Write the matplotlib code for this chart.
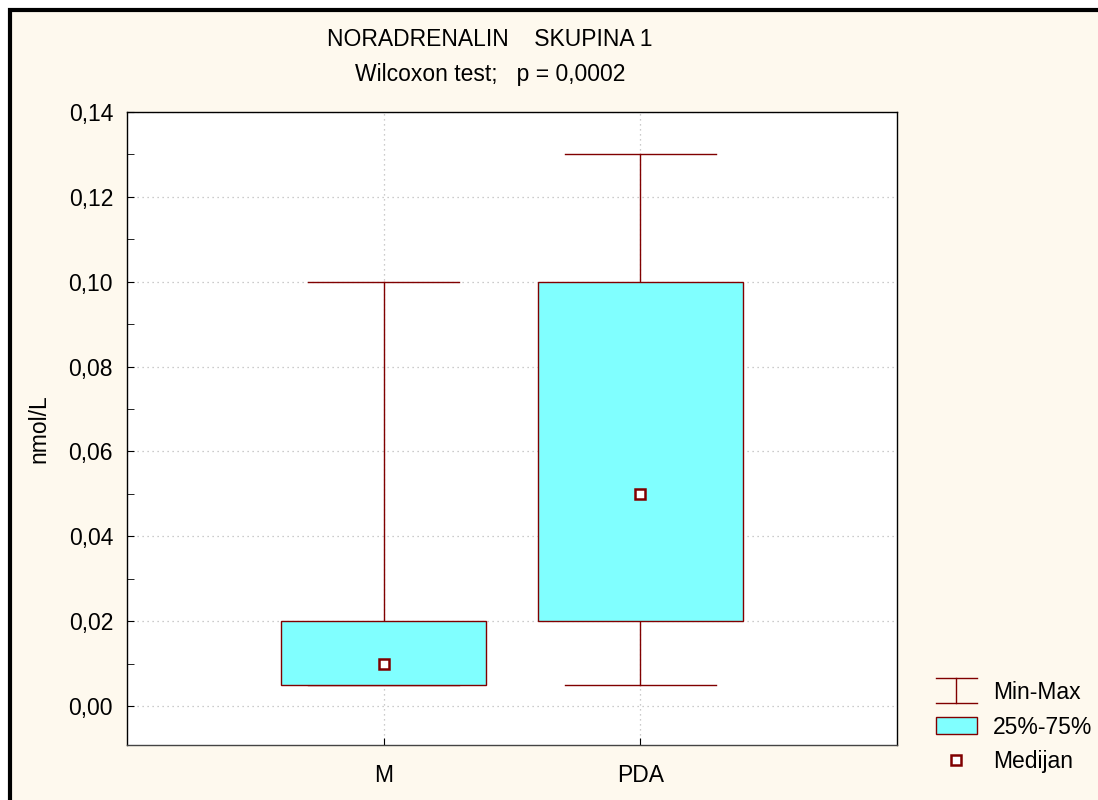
import matplotlib
matplotlib.use("Agg")
import matplotlib.pyplot as plt
from matplotlib.patches import Rectangle
from matplotlib.lines import Line2D
from matplotlib.legend_handler import HandlerBase

plt.rcParams['font.family'] = ['Liberation Sans', 'DejaVu Sans']

# data
groups = ["M", "PDA"]
v_min = [0.005, 0.005]
q25 = [0.005, 0.02]
median = [0.01, 0.05]
q75 = [0.02, 0.10]
v_max = [0.10, 0.13]

ytick_labels = ["0,00", "0,02", "0,04", "0,06", "0,08", "0,10", "0,12", "0,14"]
yticks = [0.0, 0.02, 0.04, 0.06, 0.08, 0.10, 0.12, 0.14]

red = "#800000"
cyan = "#80FFFF"
cream = "#FEF9EE"
fs = 16.5

fig = plt.figure(figsize=(10.98, 8), dpi=100, facecolor="white")
# cream panel with black frame on left/top
fig.patches.append(Rectangle((10/1098, -0.05), 1.2, 1 - 10/800 + 0.05,
                             transform=fig.transFigure, facecolor=cream,
                             edgecolor="black", linewidth=3, zorder=-10))

ax = fig.add_axes([127/1098, 1 - 745/800, (897-127)/1098, (745-112)/800])
ax.set_facecolor("white")

pos = [1, 2]
bw = 0.8
cw = 0.59
for x, lo, a, m, b, hi in zip(pos, v_min, q25, median, q75, v_max):
    ax.plot([x, x], [lo, a], color=red, lw=1, zorder=2)
    ax.plot([x, x], [b, hi], color=red, lw=1, zorder=2)
    ax.plot([x - cw/2, x + cw/2], [lo, lo], color=red, lw=1, zorder=2)
    ax.plot([x - cw/2, x + cw/2], [hi, hi], color=red, lw=1, zorder=2)
    ax.add_patch(Rectangle((x - bw/2, a), bw, b - a, facecolor=cyan,
                           edgecolor=red, lw=1, zorder=3))
    ax.plot([x], [m], marker="s", ms=7.5, mfc="white", mec=red, mew=1.8,
            ls="none", zorder=4)

ax.set_xlim(0, 3)
ax.set_ylim(-0.0092, 0.14)
ax.set_xticks(pos)
ax.set_xticklabels(groups, fontsize=fs)
ax.set_yticks(yticks)
ax.set_yticklabels(ytick_labels, fontsize=fs)
ax.set_yticks([0.01, 0.03, 0.05, 0.07, 0.09, 0.11, 0.13], minor=True)
ax.tick_params(axis="both", direction="in", length=5, pad=10, colors="black")
ax.tick_params(axis="y", which="minor", direction="in", length=5)
ax.tick_params(axis="x", pad=14)
ax.grid(True, color="#BBBBBB", linestyle=(0, (1, 3)), lw=0.9, zorder=0)
ax.set_axisbelow(True)
for s in ax.spines.values():
    s.set_linewidth(1)
ax.spines["bottom"].set_color("#444444")
ax.set_ylabel("nmol/L", fontsize=fs, labelpad=13)

fig.text(490/1098, 1 - 40/800, "NORADRENALIN    SKUPINA 1", ha="center",
         va="center", fontsize=fs)
fig.text(490/1098, 1 - 75/800, "Wilcoxon test;   p = 0,0002", ha="center",
         va="center", fontsize=fs)


class MinMaxHandler(HandlerBase):
    def create_artists(self, legend, orig, xd, yd, w, h, fs, trans):
        x0, x1 = xd, xd + w
        top, bot = yd + h*1.15, yd - h*0.25
        xm = (x0 + x1) / 2
        arts = [Line2D([x0, x1], [top, top], color=red, lw=1),
                Line2D([x0, x1], [bot, bot], color=red, lw=1),
                Line2D([xm, xm], [bot, top], color=red, lw=1)]
        for a in arts:
            a.set_transform(trans)
        return arts


h_minmax = Line2D([], [], color=red)
h_box = Rectangle((0, 0), 1, 1, facecolor=cyan, edgecolor=red, lw=1)
h_med = Line2D([], [], marker="s", ms=7.5, mfc="white", mec=red, mew=1.8,
               ls="none")
fig.legend([h_minmax, h_box, h_med], ["Min-Max", "25%-75%", "Medijan"],
           handler_map={h_minmax: MinMaxHandler()},
           loc="center left", bbox_to_anchor=(915/1098, 1 - 727/800),
           frameon=False, fontsize=fs, handlelength=1.8, handleheight=0.8,
           handletextpad=0.7, labelspacing=0.5)

fig.savefig("out.png", dpi=100, facecolor=fig.get_facecolor())
